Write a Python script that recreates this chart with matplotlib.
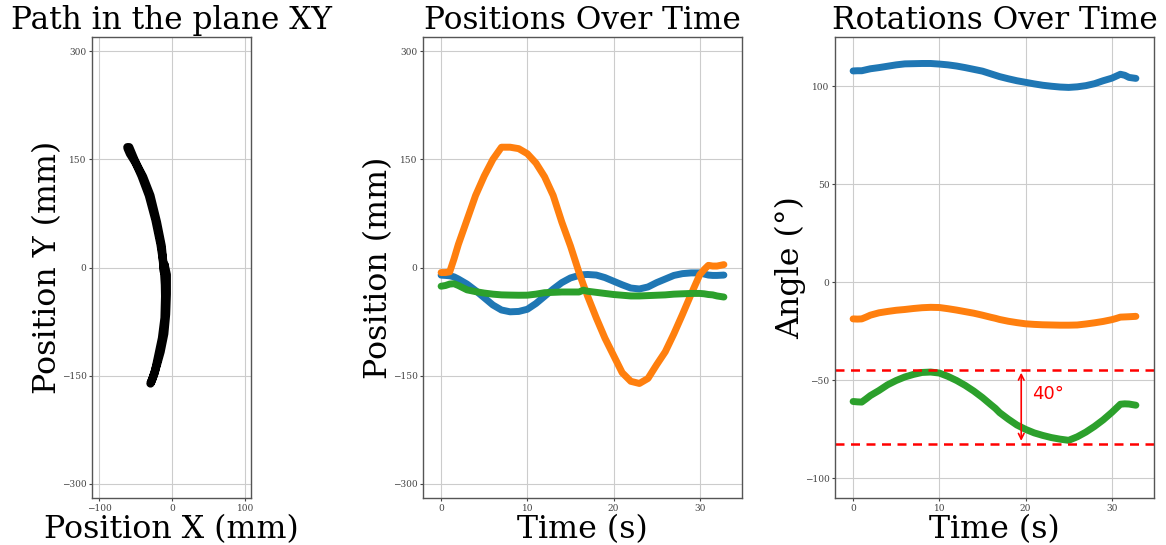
import matplotlib
matplotlib.use("Agg")
import matplotlib.pyplot as plt

# ---- data ----
time_s = [0, 0.5, 1, 1.5, 2, 3, 4, 5, 6, 7, 8, 9, 10, 11, 12, 13, 14, 15, 16, 16.5,
          17, 18, 19, 20, 21, 22, 23, 24, 25, 26, 27, 28, 29, 30, 30.5, 31, 31.5, 32, 32.8]

pos_x = [-10.6, -11, -11.5, -13, -16, -23, -32, -42, -52, -59, -61.5, -61, -58, -50, -40,
         -30, -21, -14.5, -11, -10, -9.7, -10.5, -14, -19, -24, -28.5, -29.8, -27, -21, -16,
         -11, -8.5, -7.5, -7.5, -9, -10.5, -11, -11, -10.5]
pos_y = [-7, -7, -6, 12, 32, 66, 100, 127, 150, 167, 167, 165, 158, 145, 126, 100, 63, 30,
         -7, -24, -40, -70, -98, -122, -146, -158, -161, -154, -135, -117, -92, -65, -37,
         -10, -3, 3, 2, 2, 4]
pos_z = [-26, -25, -23, -22.5, -25, -31, -33.5, -35.5, -37, -38, -38.3, -38.5, -38.4, -37,
         -35, -34.5, -34, -34, -34, -31.5, -33, -34.5, -36, -37.5, -38.5, -39.5, -39.5, -39,
         -38.5, -38, -37, -36.5, -36, -36, -36.5, -37.5, -38, -39.5, -41]

rot_a = [107.7, 107.8, 107.8, 108.3, 108.8, 109.4, 110.1, 110.8, 111.3, 111.4, 111.5, 111.5,
         111.2, 110.8, 110.2, 109.4, 108.5, 107.6, 106.2, 105.5, 104.8, 103.7, 102.7, 101.9,
         101.1, 100.4, 99.9, 99.5, 99.3, 99.6, 100.2, 101.2, 102.7, 104, 105, 106, 105.5,
         104.4, 103.9]
rot_b = [-18.7, -18.8, -18.7, -17.8, -16.8, -15.6, -14.9, -14.3, -13.9, -13.4, -13.0, -12.8,
         -12.9, -13.5, -14.2, -15, -15.8, -16.8, -17.9, -18.4, -19, -19.9, -20.6, -21.2, -21.5,
         -21.7, -21.8, -21.9, -21.9, -21.8, -21.3, -20.7, -20, -19.1, -18.5, -17.8, -17.7,
         -17.6, -17.4]
rot_c = [-60.8, -61, -61.1, -59.5, -57.8, -55.2, -52.3, -50.1, -48.3, -47, -46, -45.8, -46.3,
         -48, -50.1, -52.6, -55.5, -58.8, -62.5, -64.3, -66.5, -69.8, -72.8, -75, -76.8,
         -78.1, -79.2, -80, -80.6, -78.8, -76.4, -73.5, -70.2, -66.4, -64.3, -62.2, -62,
         -62.1, -62.7]

range_lines = [-44.7, -82.3]
range_label = "40°"
range_time = 19.5

pos_ticks = [-300, -150, 0, 150, 300]
xy_ticks = [-100, 0, 100]
time_ticks = [0, 10, 20, 30]
rot_ticks = [-100, -50, 0, 50, 100]

# ---- style ----
plt.rcParams['font.family'] = ['DejaVu Serif']
W, H = 1166, 545
fig = plt.figure(figsize=(W / 100, H / 100), dpi=100)

def px_axes(l, r, t, b):
    return fig.add_axes([l / W, 1 - b / H, (r - l) / W, (b - t) / H])

ax1 = px_axes(92, 251, 37, 498)
ax2 = px_axes(423, 742, 37, 498)
ax3 = px_axes(835, 1154, 37, 498)

title_fs = 22.5
label_fs = 22.8
tick_fs = 6.5

for ax in (ax1, ax2, ax3):
    ax.grid(True, color='#cccccc', linewidth=0.8)
    ax.set_axisbelow(True)
    for s in ax.spines.values():
        s.set_color('#555555')
        s.set_linewidth(1.0)
    ax.tick_params(labelsize=tick_fs, colors='#444444', length=2.5, width=0.8, pad=1.5)

# panel 1
ax1.plot(pos_x, pos_y, color='black', linewidth=6, solid_capstyle='round',
         solid_joinstyle='round')
ax1.set_xlim(-110, 108)
ax1.set_ylim(-320, 320)
ax1.set_xticks(xy_ticks)
ax1.set_yticks(pos_ticks)
ax1.set_title("Path in the plane XY", fontsize=title_fs, pad=6)
ax1.set_xlabel("Position X (mm)", fontsize=label_fs, labelpad=1)
ax1.set_ylabel("Position Y (mm)", fontsize=label_fs, labelpad=-1)

# panel 2
for vals, c in ((pos_x, '#1f77b4'), (pos_y, '#ff7f0e'), (pos_z, '#2ca02c')):
    ax2.plot(time_s, vals, color=c, linewidth=5, solid_capstyle='round',
             solid_joinstyle='round')
ax2.set_xlim(-2.1, 34.9)
ax2.set_ylim(-320, 320)
ax2.set_xticks(time_ticks)
ax2.set_yticks(pos_ticks)
ax2.set_title("Positions Over Time", fontsize=title_fs, pad=6)
ax2.set_xlabel("Time (s)", fontsize=label_fs, labelpad=1)
ax2.set_ylabel("Position (mm)", fontsize=label_fs, labelpad=-1)

# panel 3
for vals, c in ((rot_a, '#1f77b4'), (rot_b, '#ff7f0e'), (rot_c, '#2ca02c')):
    ax3.plot(time_s, vals, color=c, linewidth=5, solid_capstyle='round',
             solid_joinstyle='round')
for yv in range_lines:
    ax3.axhline(yv, color='red', linestyle=(0, (3.6, 2.6)), linewidth=1.8)
ax3.annotate('', xy=(range_time, range_lines[0]), xytext=(range_time, range_lines[1]),
             arrowprops=dict(arrowstyle='<->', color='red', lw=1.2))
ax3.text(range_time + 1.2, (range_lines[0] + range_lines[1]) / 2 + 6.5, range_label,
         color='red', fontsize=13, family='DejaVu Sans', va='center', ha='left')
ax3.set_xlim(-2.1, 34.9)
ax3.set_ylim(-110, 125)
ax3.set_xticks(time_ticks)
ax3.set_yticks(rot_ticks)
ax3.set_title("Rotations Over Time", fontsize=title_fs, pad=6)
ax3.set_xlabel("Time (s)", fontsize=label_fs, labelpad=1)
ax3.set_ylabel("Angle (°)", fontsize=label_fs, labelpad=-1)

fig.savefig("out.png", dpi=100)
